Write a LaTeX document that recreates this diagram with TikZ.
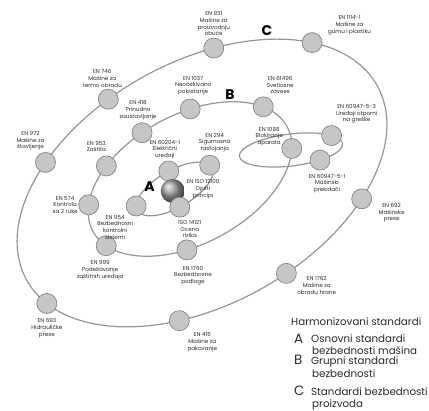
\documentclass[tikz,border=0pt]{standalone}
\usepackage{fontspec}
\setmainfont{Poppins}
\usetikzlibrary{positioning}
\definecolor{orbitgray}{HTML}{959595}
\definecolor{stdfill}{HTML}{C6C6C6}
\definecolor{stdline}{HTML}{858585}
\definecolor{txtgray}{HTML}{2A2A2A}
\tikzset{
  orbit/.style={draw=orbitgray,line width=1.2pt},
  std/.style={circle,draw=stdline,fill=stdfill,line width=0.7pt,minimum size=20pt,inner sep=0pt},
  lbl/.style={font=\fontsize{5.6}{6.7}\selectfont,text=txtgray,align=center,inner sep=0.5pt},
  grp/.style={font=\bfseries\fontsize{14}{14}\selectfont,inner sep=0pt},
  legtxt/.style={font=\fontsize{10.3}{12}\selectfont,text=txtgray,align=left,inner sep=0pt},
  legletter/.style={font=\fontsize{13.5}{13.5}\selectfont,text=txtgray,inner sep=0pt},
}
\begin{document}
\begin{tikzpicture}[x=1pt,y=1pt]
  \useasboundingbox (0,0) rectangle (429,-411);
  % orbits
  \draw[orbit,rotate around={29:(202,-183)}] (202,-183) ellipse (200.4 and 121.3);
  \draw[orbit,rotate around={28.3:(190,-179)}] (190,-179) ellipse (110.3 and 64.6);
  \draw[orbit,rotate around={7:(291,-150)}] (291,-150) ellipse (52 and 16);
  \draw[orbit,rotate around={30:(174.5,-189)}] (174.5,-189) ellipse (43 and 18.5);
  % C: product standards
  \begin{scope}[shift={(202,-183)},rotate=29]
    \node[std] (en931) at (67.8:200.4 and 121.3) {};
    \node[std] (en1114) at (34.9:200.4 and 121.3) {};
    \node[std] (en746) at (101.9:200.4 and 121.3) {};
    \node[std] (en972) at (129.3:200.4 and 121.3) {};
    \node[std] (en693) at (194.4:200.4 and 121.3) {};
    \node[std] (en415) at (244.4:200.4 and 121.3) {};
    \node[std] (en1762) at (278.6:200.4 and 121.3) {};
    \node[std] (en692) at (311.2:200.4 and 121.3) {};
  \end{scope}
  % B: group standards
  \begin{scope}[shift={(190,-179)},rotate=28.3]
    \node[std] (en1037) at (72.4:110.3 and 64.6) {};
    \node[std] (en61496) at (26.5:110.3 and 64.6) {};
    \node[std] (en418) at (100.6:110.3 and 64.6) {};
    \node[std] (en953) at (127.7:110.3 and 64.6) {};
    \node[std] (en574) at (156.9:110.3 and 64.6) {};
    \node[std] (en999) at (197.1:110.3 and 64.6) {};
    \node[std] (en1760) at (250.8:110.3 and 64.6) {};
  \end{scope}
  \begin{scope}[shift={(291,-150)},rotate=7]
    \node[std] (en609473) at (36:52 and 16) {};
    \node[std] (en609471) at (302:52 and 16) {};
  \end{scope}
  \begin{scope}[shift={(190,-179)},rotate=28.3]
    \node[std] (en1088) at (340.7:110.3 and 64.6) {};
  \end{scope}
  % A: basic standards
  \begin{scope}[shift={(174.5,-189)},rotate=30]
    \node[std] (en294) at (9.4:43 and 18.5) {};
    \node[std] (en60204) at (84.6:43 and 18.5) {};
    \node[std] (en954) at (166:43 and 18.5) {};
  \end{scope}
  \node[circle,minimum size=24pt,inner sep=0pt,shading=ball,ball color=gray!75] (iso12100) at (172.7,-191) {};
  \begin{scope}[shift={(174.5,-189)},rotate=30]
    \node[std] (iso14121) at (264:43 and 18.5) {};
  \end{scope}
  % group letters
  \node[grp] (grpA) at (149.5,-186.5) {A};
  \node[grp] (grpB) at (230,-95) {B};
  \node[grp] (grpC) at (267,-30.5) {C};
  % labels
  \node[lbl,above=1pt of en931] (en931l) {EN 931\\Mašine za\\proizvodnju\\obuće};
  \node[lbl,above right=0pt and 8pt of en1114] (en1114l) {EN 1114-1\\Mašine za\\gumu i plastiku};
  \node[lbl,above=1pt of en746,xshift=-6pt] (en746l) {EN 746\\Mašine za\\termo obradu};
  \node[lbl,above=3pt of en1037,xshift=3pt] (en1037l) {EN 1037\\Neočekivano\\pokretanje};
  \node[lbl,above=2pt of en61496,xshift=17pt] (en61496l) {EN 61496\\Svetlosne\\zavese};
  \node[lbl,above=2pt of en418,xshift=-4pt] (en418l) {EN 418\\Prinudno\\zaustavljanje};
  \node[lbl,above=1pt of en609473,xshift=25pt] (en609473l) {EN 60947-5-3\\Uređaji otporni\\na greške};
  \node[lbl,left=-2pt of en1088,yshift=12pt] (en1088l) {EN 1088\\Blokiranje\\aparata};
  \node[lbl,above=1pt of en972,xshift=-15pt] (en972l) {EN 972\\Mašine za\\štavljenje};
  \node[lbl,above=3pt of en953,xshift=-10pt] (en953l) {EN 953\\Zaštita};
  \node[lbl,above=2pt of en294,xshift=5pt] (en294l) {EN 294\\Sigurnosna\\rastojanja};
  \node[lbl,above=1pt of en60204,xshift=-4pt] (en60204l) {EN 60204-1\\Električni\\uređaji};
  \node[lbl,right=1pt of iso12100,yshift=2pt] (iso12100l) {EN ISO 12100\\Opšti\\principi};
  \node[lbl,left=0pt of en574] (en574l) {EN 574\\Kontrola\\sa 2 ruke};
  \node[lbl,below=-2pt of en954,xshift=-21pt] (en954l) {EN 954\\Bezbednosni\\kontrolni\\sistemi};
  \node[lbl,below=2pt of iso14121,xshift=10pt] (iso14121l) {ISO 14121\\Ocena\\rizika};
  \node[lbl,below=3pt of en609471,xshift=7pt] (en609471l) {EN 60947-5-1\\Mašinski\\prekidači};
  \node[lbl,right=6pt of en692,yshift=-14pt] (en692l) {EN 692\\Mašinske\\prese};
  \node[lbl,below=4pt of en999,xshift=-6pt] (en999l) {EN 999\\Podešavanje\\zaštitnih uređaja};
  \node[lbl,below=5pt of en1760,xshift=6pt] (en1760l) {EN 1760\\Bezbednosne\\podloge};
  \node[lbl,right=0pt of en1762,yshift=-12pt] (en1762l) {EN 1762\\Mašine za\\obradu hrane};
  \node[lbl,below=4pt of en693] (en693l) {EN 693\\Hidrauličke\\prese};
  \node[lbl,below=1pt of en415,xshift=23pt] (en415l) {EN 415\\Mašine za\\pakovanje};
  % legend
  \node[legtxt,anchor=base west] (harm) at (291,-326) {Harmonizovani standardi};
  \node[legletter,anchor=base west] (legA) at (294,-343.5) {A};
  \node[legtxt,anchor=base west] (legAt) at (311,-343) {Osnovni standardi};
  \node[legtxt,anchor=base west] (legAt2) at (312,-355) {bezbednosti mašina};
  \node[legletter,anchor=base west] (legB) at (294,-365) {B};
  \node[legtxt,anchor=base west] (legBt) at (311,-365) {Grupni standardi};
  \node[legtxt,anchor=base west] (legBt2) at (312,-378) {bezbednosti};
  \node[legletter,anchor=base west] (legC) at (294,-396) {C};
  \node[legtxt,anchor=base west] (legCt) at (311,-396) {Standardi bezbednosti};
  \node[legtxt,anchor=base west] (legCt2) at (312,-408) {proizvoda};
\end{tikzpicture}
\end{document}
